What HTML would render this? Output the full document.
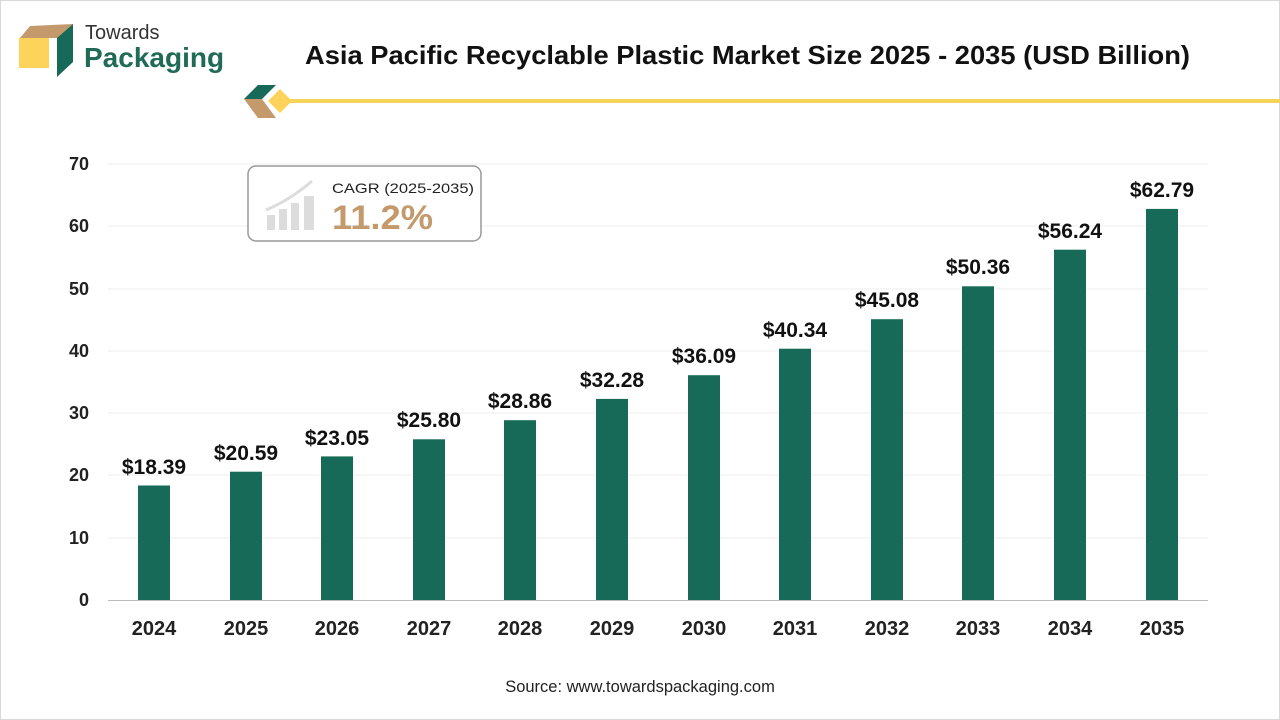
<!DOCTYPE html>
<html><head><meta charset="utf-8"><style>body{margin:0;background:#fff}svg{display:block}</style></head><body>
<svg width="1280" height="720" xmlns="http://www.w3.org/2000/svg" font-family="Liberation Sans, Arial, sans-serif">
<rect x="0" y="0" width="1280" height="720" fill="#fff"/>
<rect x="0.5" y="0.5" width="1279" height="719" fill="none" stroke="#d8d8d8"/>
<!-- logo -->
<polygon points="30,26 73,24 63,38 20,38" fill="#c49a6c"/>
<rect x="19" y="38" width="30" height="30" fill="#fdd35c"/>
<polygon points="57,38 73,24 73,62 57,77" fill="#176a58"/>
<text x="85" y="39" font-size="20" fill="#333">Towards</text>
<text x="84" y="67" font-size="28" font-weight="bold" fill="#1f6b57">Packaging</text>
<text x="305" y="64" font-size="26" font-weight="bold" fill="#111" textLength="885" lengthAdjust="spacingAndGlyphs">Asia Pacific Recyclable Plastic Market Size 2025 - 2035 (USD Billion)</text>
<polygon points="244,99 258,85 276,85 262,99" fill="#176a58"/>
<polygon points="244,99 262,99 276,118 258,118" fill="#c49a6c"/>
<polygon points="268,101 280,89 292,101 280,113" fill="#fdd35c"/>
<rect x="290" y="99" width="990" height="4" fill="#f5d45a"/>
<!-- grid -->
<g stroke="#ececec" stroke-width="1">
<line x1="108" y1="164" x2="1208" y2="164"/><line x1="108" y1="226" x2="1208" y2="226"/>
<line x1="108" y1="289" x2="1208" y2="289"/><line x1="108" y1="351" x2="1208" y2="351"/>
<line x1="108" y1="413" x2="1208" y2="413"/><line x1="108" y1="475" x2="1208" y2="475"/>
<line x1="108" y1="538" x2="1208" y2="538"/>
</g>
<line x1="108" y1="600.5" x2="1208" y2="600.5" stroke="#bbb"/>
<g font-size="18" font-weight="bold" fill="#222" text-anchor="end">
<text x="89" y="170">70</text><text x="89" y="232">60</text><text x="89" y="295">50</text>
<text x="89" y="357">40</text><text x="89" y="419">30</text><text x="89" y="481">20</text>
<text x="89" y="544">10</text><text x="89" y="606">0</text>
</g>
<!-- CAGR box -->
<rect x="248" y="166" width="233" height="75" rx="8" fill="#fff" stroke="#999" stroke-width="1.5"/>
<g fill="#dcdcdc"><rect x="267" y="215" width="8" height="15"/><rect x="279" y="209" width="8" height="21"/><rect x="291" y="203" width="8" height="27"/><rect x="304" y="196" width="10" height="34"/></g>
<path d="M266,210 Q290,200 312,181" stroke="#dcdcdc" stroke-width="3" fill="none"/>
<text x="332" y="193" font-size="14" fill="#222" textLength="142" lengthAdjust="spacingAndGlyphs">CAGR (2025-2035)</text>
<text x="332" y="229" font-size="34" font-weight="bold" fill="#c49a6c" textLength="101" lengthAdjust="spacingAndGlyphs">11.2%</text>
<!-- bars -->
<g fill="#176a58">
<rect x="138" y="485.5" width="32" height="114.5"/>
<rect x="230" y="471.7" width="32" height="128.3"/>
<rect x="321" y="456.4" width="32" height="143.6"/>
<rect x="413" y="439.3" width="32" height="160.7"/>
<rect x="504" y="420.2" width="32" height="179.8"/>
<rect x="596" y="398.9" width="32" height="201.1"/>
<rect x="688" y="375.2" width="32" height="224.8"/>
<rect x="779" y="348.7" width="32" height="251.3"/>
<rect x="871" y="319.2" width="32" height="280.8"/>
<rect x="962" y="286.3" width="32" height="313.7"/>
<rect x="1054" y="249.7" width="32" height="350.3"/>
<rect x="1146" y="208.9" width="32" height="391.1"/>
</g>
<g font-size="21" font-weight="bold" fill="#111" text-anchor="middle">
<text x="154" y="474">$18.39</text><text x="246" y="460">$20.59</text><text x="337" y="445">$23.05</text>
<text x="429" y="427">$25.80</text><text x="520" y="408">$28.86</text><text x="612" y="387">$32.28</text>
<text x="704" y="363">$36.09</text><text x="795" y="337">$40.34</text><text x="887" y="307">$45.08</text>
<text x="978" y="274">$50.36</text><text x="1070" y="238">$56.24</text><text x="1162" y="197">$62.79</text>
</g>
<g font-size="20" font-weight="bold" fill="#222" text-anchor="middle">
<text x="154" y="635">2024</text><text x="246" y="635">2025</text><text x="337" y="635">2026</text>
<text x="429" y="635">2027</text><text x="520" y="635">2028</text><text x="612" y="635">2029</text>
<text x="704" y="635">2030</text><text x="795" y="635">2031</text><text x="887" y="635">2032</text>
<text x="978" y="635">2033</text><text x="1070" y="635">2034</text><text x="1162" y="635">2035</text>
</g>
<text x="640" y="692" font-size="16.5" fill="#222" text-anchor="middle">Source: www.towardspackaging.com</text>
</svg>
</body></html>
